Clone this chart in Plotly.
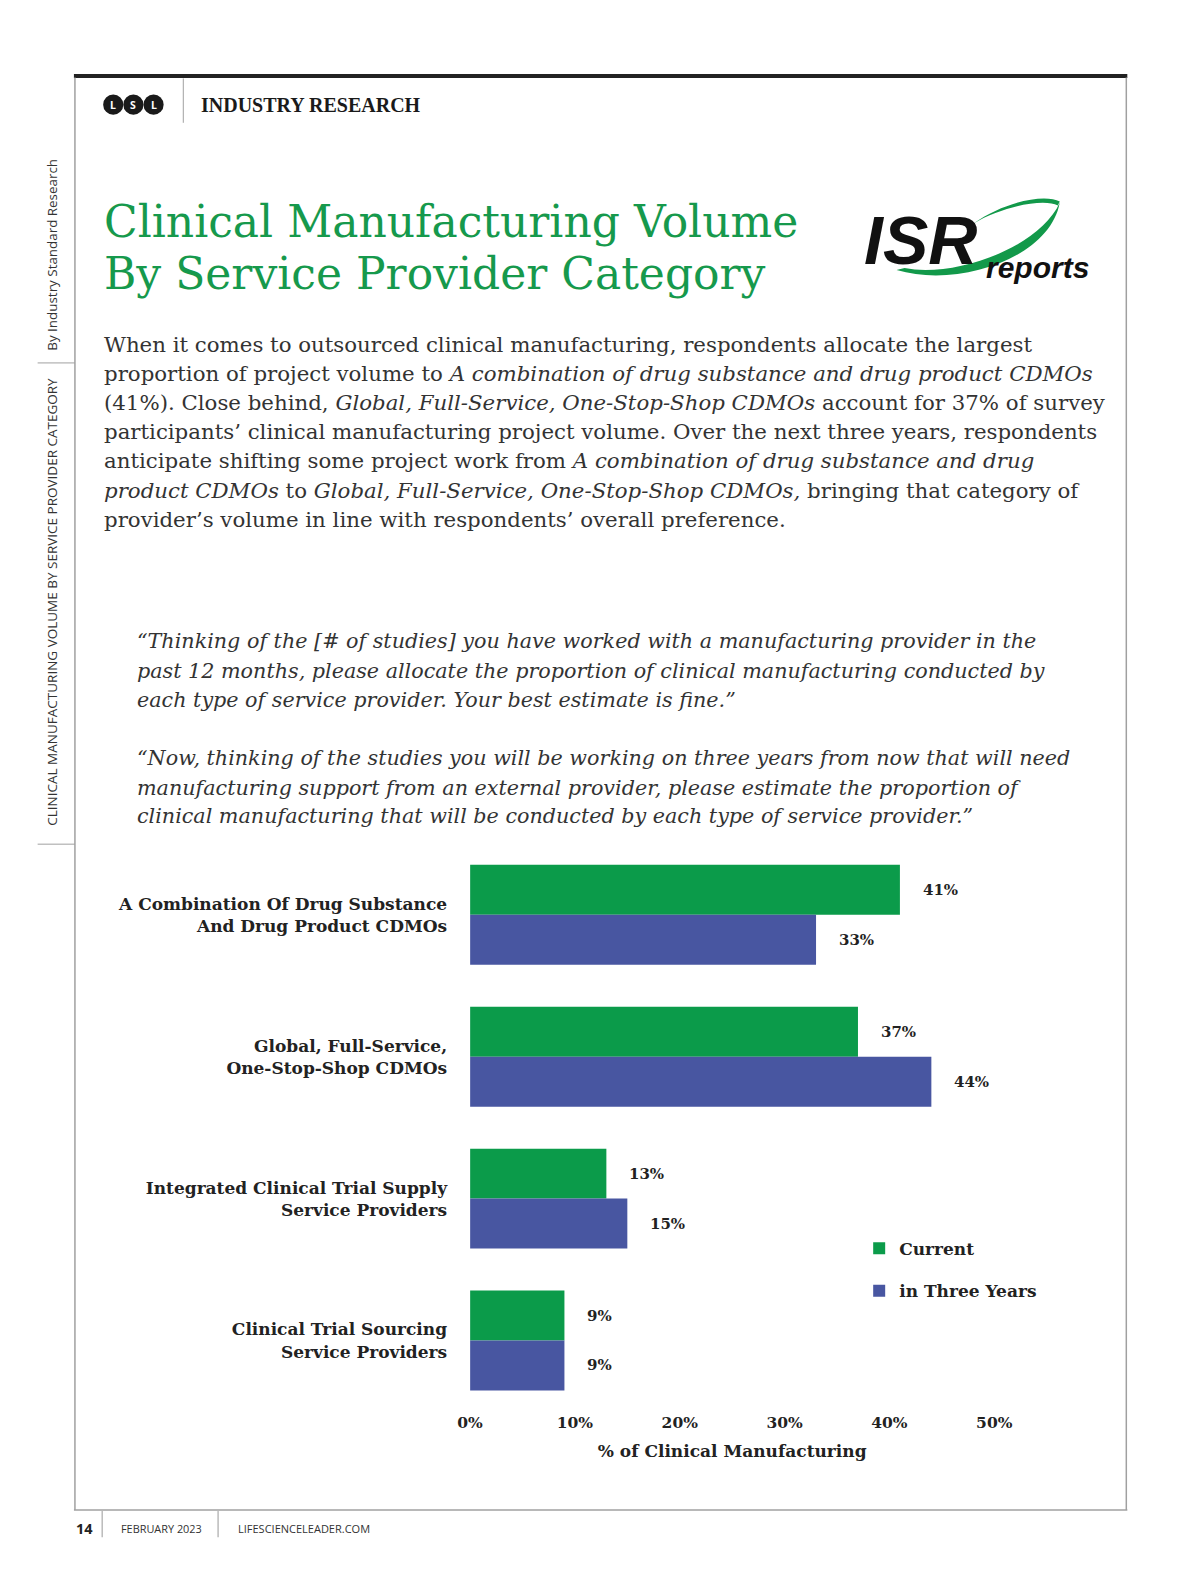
import plotly.graph_objects as go

W, H = 1200, 1582

# mapping from reference-picture pixels to figure paper coordinates
SX, OX = 0.9664, 19.5
SY, OY = 0.9912, 7.2

def px(x):
    return ((x - OX) / SX) / W

def py(y):
    return 1 - ((y - OY) / SY) / H

# ---------------- data ----------------
categories = [
    "A Combination Of Drug Substance<br>And Drug Product CDMOs",
    "Global, Full-Service,<br>One-Stop-Shop CDMOs",
    "Integrated Clinical Trial Supply<br>Service Providers",
    "Clinical Trial Sourcing<br>Service Providers",
]
current = [41, 37, 13, 9]
three_years = [33, 44, 15, 9]
series_names = ["Current", "in Three Years"]
x_ticks = [0, 10, 20, 30, 40, 50]

GREEN = "#0b9b4a"
BLUE = "#4856a1"
TITLE_GREEN = "#16994c"
SERIF = "DejaVu Serif"
SANS = "Open Sans"
TXT = "#333333"
DARK = "#222222"

fig = go.Figure()
fig.add_trace(go.Bar(
    y=categories, x=current, name=f"<b>{series_names[0]}</b>", orientation="h",
    marker=dict(color=GREEN, line=dict(width=0)), legend="legend",
    hoverinfo="skip",
))
fig.add_trace(go.Bar(
    y=categories, x=three_years, name=f"<b>{series_names[1]}</b>", orientation="h",
    marker=dict(color=BLUE, line=dict(width=0)), legend="legend2",
    hoverinfo="skip",
))

annotations = []
# value labels
bargap = 0.296
off = (1 - bargap) / 4
for i, v in enumerate(current):
    annotations.append(dict(x=v, y=i - off, xref="x", yref="y", text=f"<b>{v}%</b>",
                            showarrow=False, xanchor="left", yanchor="middle", xshift=21,
                            font=dict(family=SERIF, size=15, color=DARK)))
for i, v in enumerate(three_years):
    annotations.append(dict(x=v, y=i + off, xref="x", yref="y", text=f"<b>{v}%</b>",
                            showarrow=False, xanchor="left", yanchor="middle", xshift=21,
                            font=dict(family=SERIF, size=15, color=DARK)))

def txt(x, y, text, size, color=TXT, family=SERIF, xanchor="left", angle=0):
    annotations.append(dict(x=px(x), y=py(y), xref="paper", yref="paper", text=text,
                            showarrow=False, xanchor=xanchor, yanchor="middle",
                            textangle=angle, font=dict(family=family, size=size, color=color)))

# header
txt(196, 103, "<b>INDUSTRY RESEARCH</b>", 20, color="#1a1a1a", family="Liberation Serif")
for cx, letter in zip([111, 131, 151], ["L", "S", "L"]):
    txt(cx, 103, f"<b>{letter}</b>", 10.5, color="white", family=SANS, xanchor="center")

# side texts
txt(50, 252, "By Industry Standard Research", 13.4, color="#333", family=SANS, xanchor="center", angle=-90)
txt(50, 596, "CLINICAL MANUFACTURING VOLUME BY SERVICE PROVIDER CATEGORY", 13.5, color="#333",
    family=SANS, xanchor="center", angle=-90)

# title
txt(100, 219, "Clinical Manufacturing Volume", 44, color=TITLE_GREEN)
txt(100, 270, "By Service Provider Category", 44, color=TITLE_GREEN)

# ISR logo text
txt(854, 237, "<b><i>ISR</i></b>", 68, color="#111", family="Liberation Sans")
txt(975, 264, "<b><i>reports</i></b>", 30, color="#111", family="Liberation Sans")

# body
body = [
    "When it comes to outsourced clinical manufacturing, respondents allocate the largest",
    "proportion of project volume to <i>A combination of drug substance and drug product CDMOs</i>",
    "(41%). Close behind, <i>Global, Full-Service, One-Stop-Shop CDMOs</i> account for 37% of survey",
    "participants’ clinical manufacturing project volume. Over the next three years, respondents",
    "anticipate shifting some project work from <i>A combination of drug substance and drug</i>",
    "<i>product CDMOs</i> to <i>Global, Full-Service, One-Stop-Shop CDMOs,</i> bringing that category of",
    "provider’s volume in line with respondents’ overall preference.",
]
for k, line in enumerate(body):
    txt(100, 341 + k * 28.8, line, 21.3)

quote = [
    "“Thinking of the [# of studies] you have worked with a manufacturing provider in the",
    "past 12 months, please allocate the proportion of clinical manufacturing conducted by",
    "each type of service provider. Your best estimate is fine.”",
    "“Now, thinking of the studies you will be working on three years from now that will need",
    "manufacturing support from an external provider, please estimate the proportion of",
    "clinical manufacturing that will be conducted by each type of service provider.”",
]
qy = [635, 664, 693, 751, 780, 808]
for line, y in zip(quote, qy):
    txt(133, y, f"<i>{line}</i>", 20.7)

# footer
txt(72, 1514, "<b>14</b>", 14.5, color="#222", family=SANS)
txt(117, 1514, "FEBRUARY 2023", 10.9, color="#333", family=SANS)
txt(233, 1514, "LIFESCIENCELEADER.COM", 11, color="#333", family=SANS)

# ---------------- shapes ----------------
shapes = []

def line(x0, y0, x1, y1, color, width):
    shapes.append(dict(type="line", xref="paper", yref="paper", x0=px(x0), y0=py(y0),
                       x1=px(x1), y1=py(y1), line=dict(color=color, width=width)))

line(72, 74.5, 1117, 74.5, "#222222", 4)          # top thick rule
line(73, 76, 73, 1496, "#a0a0a0", 1.5)             # left border
line(1116, 76, 1116, 1496, "#a0a0a0", 1.5)         # right border
line(72, 1496, 1117, 1496, "#a0a0a0", 1.5)         # bottom border
line(180.5, 77, 180.5, 121, "#a0a0a0", 1)          # header divider
line(36, 359, 73, 359, "#a0a0a0", 1)               # side separators
line(36, 836, 73, 836, "#a0a0a0", 1)
line(100, 1497, 100, 1523, "#999999", 1)           # footer dividers
line(215, 1497, 215, 1523, "#999999", 1)

for cx in [111, 131, 151]:
    shapes.append(dict(type="circle", xref="paper", yref="paper",
                       x0=px(cx - 10), x1=px(cx + 10), y0=py(103 + 10), y1=py(103 - 10),
                       fillcolor="#1a1a1a", line=dict(width=0)))

def path(points_cmds):
    out = []
    for c in points_cmds:
        if isinstance(c, str):
            out.append(c)
        else:
            out.append(f"{px(c[0]):.5f},{py(c[1]):.5f}")
    return " ".join(out)

swoosh1 = path(["M", (888, 267), "C", (950, 285), (1040, 255), (1050, 200),
                "C", (1030, 245), (945, 275), (896, 265), "Z"])
swoosh2 = path(["M", (1050, 199), "C", (1035, 191), (995, 199), (964, 221),
                "C", (995, 203), (1035, 196), (1048, 203), "Z"])
for p in (swoosh1, swoosh2):
    shapes.append(dict(type="path", xref="paper", yref="paper", path=p,
                       fillcolor="#12994a", line=dict(width=0), layer="below"))

fig.update_layout(
    width=W, height=H,
    margin=dict(l=0, r=0, t=0, b=0),
    paper_bgcolor="white", plot_bgcolor="white",
    barmode="group", bargap=bargap, bargroupgap=0,
    showlegend=True,
    legend=dict(x=px(851), y=py(1237), xanchor="left", yanchor="middle",
                font=dict(family=SERIF, size=17, color=DARK), bgcolor="rgba(0,0,0,0)"),
    legend2=dict(x=px(851), y=py(1279), xanchor="left", yanchor="middle",
                 font=dict(family=SERIF, size=17, color=DARK), bgcolor="rgba(0,0,0,0)"),
    xaxis=dict(domain=[px(465), px(985)], range=[0, 50], tickvals=x_ticks,
               ticktext=[f"<b>{t}%</b>" for t in x_ticks],
               showgrid=False, zeroline=False, showline=False, ticks="",
               tickfont=dict(family=SERIF, size=15.5, color=DARK),
               title=dict(text="<b>% of Clinical Manufacturing</b>", standoff=14,
                          font=dict(family=SERIF, size=17, color=DARK))),
    yaxis=dict(domain=[py(1398.3), py(835.7)], categoryorder="array", categoryarray=categories,
               autorange="reversed", showgrid=False, zeroline=False, showline=False, ticks="",
               ticklabelstandoff=22,
               tickfont=dict(family=SERIF, size=17, color=DARK)),
    annotations=annotations,
    shapes=shapes,
)
fig.update_yaxes(tickvals=categories,
                 ticktext=[f"<b>{c.replace('<br>', '</b><br><b>')}</b>" for c in categories])

fig.write_html("out.html")
